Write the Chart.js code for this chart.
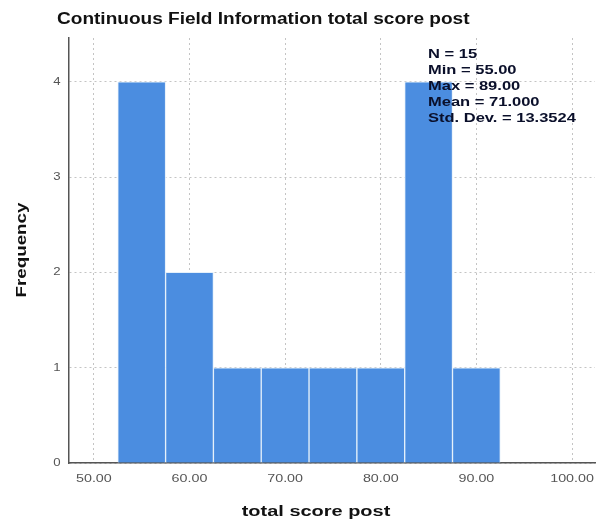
<!DOCTYPE html>
<html>
<head>
<meta charset="utf-8">
<script src="https://cdn.jsdelivr.net/npm/chart.js@4.4.0/dist/chart.umd.min.js"></script>
<style>
  html, body { margin: 0; padding: 0; background: #fff; }
  #wrap { width: 597px; height: 523px; position: relative; }
</style>
</head>
<body>
<div id="wrap"><canvas id="hist"></canvas></div>
<script>
  // bin midpoints (width 5) and counts
  const binCenters = [55, 60, 65, 70, 75, 80, 85, 90];
  const frequencies = [4, 2, 1, 1, 1, 1, 4, 1];
  const xTicks = [50, 60, 70, 80, 90, 100];
  const yTicks = [0, 1, 2, 3, 4];
  const statLines = ["N = 15", "Min = 55.00", "Max = 89.00", "Mean = 71.000", "Std. Dev. = 13.3524"];
  const chartTitle = "Continuous Field Information total score post";
  const xTitle = "total score post";
  const yTitle = "Frequency";

  const points = binCenters.map((c, i) => ({ x: c, y: frequencies[i] }));
  const FONT = "Arial, 'Liberation Sans', sans-serif";

  // text drawn a bit wide, like the original export
  function wideText(ctx, str, x, y, stretch, align) {
    ctx.save();
    ctx.translate(x, y);
    ctx.scale(stretch, 1);
    ctx.textAlign = align;
    ctx.fillText(str, 0, 0);
    ctx.restore();
  }

  const textPlugin = {
    id: "texts",
    afterDatasetsDraw(chart) {
      const { ctx, scales } = chart;
      ctx.save();
      ctx.textBaseline = "middle";

      // tick labels
      ctx.fillStyle = "#555";
      ctx.font = "11px " + FONT;
      xTicks.forEach(v => {
        wideText(ctx, v.toFixed(2), scales.x.getPixelForValue(v), 479, 1.3, "center");
      });
      yTicks.forEach(v => {
        wideText(ctx, String(v), 57, scales.y.getPixelForValue(v), 1.2, "center");
      });

      ctx.fillStyle = "#111";
      ctx.font = "bold 16px " + FONT;
      wideText(ctx, chartTitle, 57, 20, 1.19, "left");

      ctx.font = "bold 15px " + FONT;
      wideText(ctx, xTitle, 316, 512, 1.33, "center");

      ctx.save();
      ctx.translate(22, 250);
      ctx.rotate(-Math.PI / 2);
      wideText(ctx, yTitle, 0, 0, 1.25, "center");
      ctx.restore();

      ctx.font = "bold 13px " + FONT;
      ctx.fillStyle = "#0a0f2a";
      statLines.forEach((s, i) => wideText(ctx, s, 428, 54 + i * 16, 1.27, "left"));
      ctx.restore();
    }
  };

  new Chart(document.getElementById("hist"), {
    type: "bar",
    data: {
      datasets: [{
        data: points,
        backgroundColor: "#4b8de0",
        borderColor: "#e4f0fb",
        borderWidth: 1,
        barPercentage: 1,
        categoryPercentage: 1,
      }],
    },
    options: {
      responsive: true,
      maintainAspectRatio: false,
      animation: false,
      layout: { padding: { top: 38, right: 2, left: 0, bottom: 0 } },
      plugins: {
        legend: { display: false },
        tooltip: { enabled: false },
      },
      scales: {
        x: {
          type: "linear",
          offset: false,
          min: 47.4,
          max: 102.4,
          afterBuildTicks: (s) => { s.ticks = xTicks.map(v => ({ value: v })); },
          afterFit: (s) => { s.height = 60; },
          ticks: { display: false },
          grid: { color: "#c4c4c4", drawTicks: false, offset: false },
          border: { color: "#555", width: 1.5, dash: [2, 3] },
        },
        y: {
          min: 0,
          max: 4.46,
          afterBuildTicks: (s) => { s.ticks = yTicks.map(v => ({ value: v })); },
          afterFit: (s) => { s.width = 69; },
          ticks: { display: false },
          grid: { color: "#c4c4c4", drawTicks: false },
          border: { color: "#555", width: 1.5, dash: [2, 3] },
        },
      },
    },
    plugins: [textPlugin],
  });
</script>
</body>
</html>
